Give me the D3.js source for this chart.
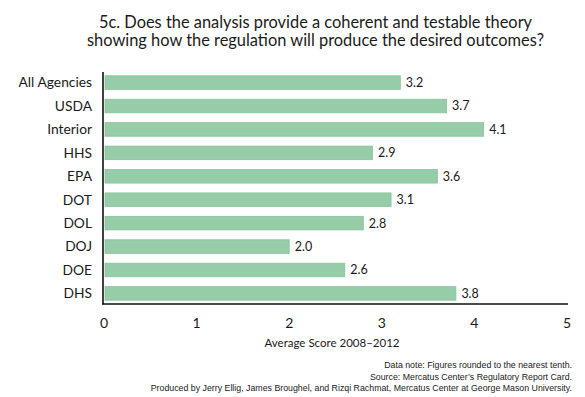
<!DOCTYPE html>
<html>
<head>
<meta charset="utf-8">
<script src="https://cdn.jsdelivr.net/npm/d3@7"></script>
<style>
  body { margin: 0; background: #fff; }
  text { font-family: "Lato", sans-serif; fill: #1a1a1a; }
</style>
</head>
<body>
<div id="chart"></div>
<script>
const agencies = ['All Agencies','USDA','Interior','HHS','EPA','DOT','DOL','DOJ','DOE','DHS'];
const scores = [3.2, 3.7, 4.1, 2.9, 3.6, 3.1, 2.8, 2.0, 2.6, 3.8];
const xTicks = [0, 1, 2, 3, 4, 5];
const titleLines = ['5c. Does the analysis provide a coherent and testable theory',
                    'showing how the regulation will produce the desired outcomes?'];
const xLabel = 'Average Score 2008\u20132012';
const notes = ['Data note: Figures rounded to the nearest tenth.',
               'Source: Mercatus Center\u2019s Regulatory Report Card.',
               'Produced by Jerry Ellig, James Broughel, and Rizqi Rachmat, Mercatus Center at George Mason University.'];

const width = 585, height = 397;
const margin = {top: 73, right: 18, bottom: 93, left: 104};

const data = agencies.map((a, i) => ({agency: a, score: scores[i]}));

const svg = d3.select('#chart')
  .append('svg')
    .attr('width', width)
    .attr('height', height);

const g = svg.append('g')
    .attr('transform', `translate(${margin.left}, ${margin.top})`);

const x = d3.scaleLinear()
    .domain([0, 5])
    .range([0, 463]);

const y = d3.scaleBand()
    .domain(agencies)
    .range([0, 230])
    .paddingInner(0.42)
    .paddingOuter(0.12);

// title
svg.append('g')
    .attr('text-anchor', 'middle')
    .attr('font-size', 16.4)
  .selectAll('text')
  .data(titleLines)
  .join('text')
    .attr('x', 315.5)
    .attr('y', (d, i) => 27.5 + i * 18.5)
    .text(d => d);

// bars
g.selectAll('.bar')
  .data(data)
  .join('rect')
    .attr('class', 'bar')
    .attr('x', 1)
    .attr('y', d => y(d.agency))
    .attr('width', d => x(d.score) - 1)
    .attr('height', y.bandwidth())
    .attr('fill', '#96cca7')
    .attr('stroke', '#88c39a')
    .attr('stroke-width', 0.8);

// value labels
g.selectAll('.val')
  .data(data)
  .join('text')
    .attr('class', 'val')
    .attr('x', d => x(d.score) + 5.5)
    .attr('y', d => y(d.agency) + y.bandwidth() / 2)
    .attr('dy', '0.35em')
    .attr('font-size', 12.5)
    .text(d => d3.format('.1f')(d.score));

// category labels
g.selectAll('.cat')
  .data(agencies)
  .join('text')
    .attr('class', 'cat')
    .attr('x', -12)
    .attr('y', d => y(d) + y.bandwidth() / 2)
    .attr('dy', '0.35em')
    .attr('text-anchor', 'end')
    .attr('font-size', 13.8)
    .text(d => d);

// axes lines
g.append('line')
    .attr('x1', -1).attr('x2', -1)
    .attr('y1', -1).attr('y2', 231.5)
    .attr('stroke', '#111').attr('stroke-width', 1.6);
g.append('line')
    .attr('x1', -1.8).attr('x2', 464)
    .attr('y1', 231).attr('y2', 231)
    .attr('stroke', '#111').attr('stroke-width', 1.6);

// x tick labels
g.selectAll('.tick')
  .data(xTicks)
  .join('text')
    .attr('class', 'tick')
    .attr('x', d => x(d))
    .attr('y', 250)
    .attr('dy', '0.35em')
    .attr('text-anchor', 'middle')
    .attr('font-size', 14)
    .text(d => d);

g.append('text')
    .attr('x', 228)
    .attr('y', 270)
    .attr('dy', '0.35em')
    .attr('text-anchor', 'middle')
    .attr('font-size', 11.5)
    .text(xLabel);

// notes
svg.append('g')
    .attr('text-anchor', 'end')
    .attr('font-size', 8.8)
  .selectAll('text')
  .data(notes)
  .join('text')
    .style('font-family', '"Liberation Sans Narrow", sans-serif')
    .attr('x', 572)
    .attr('y', (d, i) => 368 + i * 11.5)
    .text(d => d);
</script>
</body>
</html>
